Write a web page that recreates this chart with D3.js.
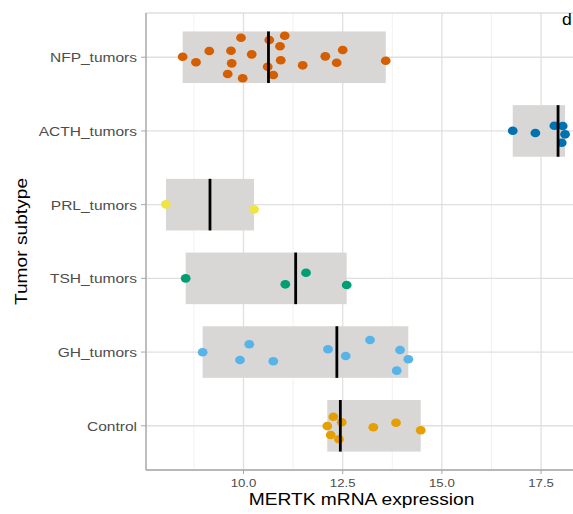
<!DOCTYPE html>
<html>
<head>
<meta charset="utf-8">
<script src="https://cdn.jsdelivr.net/npm/d3@7"></script>
<style>
html,body{margin:0;padding:0;background:#fff;}
svg{display:block;}
</style>
</head>
<body>
<svg id="chart" width="573" height="514"></svg>
<script>
// ---- data ----
const categories = ["NFP_tumors","ACTH_tumors","PRL_tumors","TSH_tumors","GH_tumors","Control"];
const colors = ["#D55E00","#0072B2","#F0E442","#009E73","#56B4E9","#E69F00"];

const nfpValues = [8.467,8.803,9.138,9.685,9.703,9.602,9.937,9.980,10.207,10.650,10.610,10.751,10.920,11.039,10.938,11.492,12.062,12.349,12.501,13.585];
const nfpJitter = [-0.007,0.069,-0.084,-0.088,0.083,0.228,-0.265,0.286,-0.039,-0.233,0.129,0.241,-0.148,-0.292,0.042,0.110,-0.012,0.075,-0.098,0.047];

const acthValues = [16.786,17.356,17.835,18.046,18.104,18.021];
const acthJitter = [-0.003,0.028,-0.071,-0.066,0.046,0.160];

const prlValues = [8.046,10.265];
const prlJitter = [-0.004,0.064];

const tshValues = [8.543,11.054,11.576,12.601];
const tshJitter = [0.0,0.081,-0.076,0.091];

const ghValues = [8.971,10.146,9.912,10.751,12.130,12.576,13.189,13.945,14.154,13.862];
const ghJitter = [0.003,-0.106,0.107,0.125,-0.038,0.053,-0.164,-0.028,0.098,0.252];

const controlValues = [12.112,12.264,12.475,12.198,12.407,13.272,13.844,14.467];
const controlJitter = [0.003,-0.123,-0.047,0.125,0.183,0.020,-0.042,0.061];

const xTicks = [10.0,12.5,15.0,17.5];
const xMinor = [8.75,11.25,13.75,16.25];
const xTitle = "MERTK mRNA expression";
const yTitle = "Tumor subtype";
const panelTag = "d";

const groups = [
  {cat:categories[0], values:nfpValues, jitter:nfpJitter, color:colors[0]},
  {cat:categories[1], values:acthValues, jitter:acthJitter, color:colors[1]},
  {cat:categories[2], values:prlValues, jitter:prlJitter, color:colors[2]},
  {cat:categories[3], values:tshValues, jitter:tshJitter, color:colors[3]},
  {cat:categories[4], values:ghValues, jitter:ghJitter, color:colors[4]},
  {cat:categories[5], values:controlValues, jitter:controlJitter, color:colors[5]}
];

// ---- layout ----
const P = {left:146, right:585, top:13, bottom:470};
const svg = d3.select("#chart");
const FONT = "'Liberation Sans', Arial, Helvetica, sans-serif";
const SX = 1.15; // horizontal stretch seen in the reference text

const all = groups.flatMap(g => g.values);
const [vmin, vmax] = d3.extent(all);
const pad = (vmax - vmin) * 0.05;
const x = d3.scaleLinear().domain([vmin - pad, vmax + pad]).range([P.left, P.right]);
const y = d3.scalePoint().domain(categories).range([P.top, P.bottom]).padding(0.6);
const step = y.step();
const jy = d3.scaleLinear().domain([-1,1]).range([-step, step]);

svg.append("defs").append("clipPath").attr("id","clip")
  .append("rect").attr("x",P.left).attr("y",P.top).attr("width",P.right-P.left).attr("height",P.bottom-P.top);

const g = svg.append("g");

// grid
g.selectAll("line.minor").data(xMinor).join("line")
  .attr("x1",d=>x(d)).attr("x2",d=>x(d)).attr("y1",P.top).attr("y2",P.bottom)
  .attr("stroke","#ededed").attr("stroke-width",0.8);
g.selectAll("line.major").data(xTicks).join("line")
  .attr("x1",d=>x(d)).attr("x2",d=>x(d)).attr("y1",P.top).attr("y2",P.bottom)
  .attr("stroke","#e0e0e0").attr("stroke-width",1.3);
g.selectAll("line.hmajor").data(categories).join("line")
  .attr("x1",P.left).attr("x2",P.right).attr("y1",d=>y(d)).attr("y2",d=>y(d))
  .attr("stroke","#e0e0e0").attr("stroke-width",1.3);

// panel border
g.append("rect").attr("x",P.left).attr("y",P.top).attr("width",P.right-P.left).attr("height",P.bottom-P.top)
  .attr("fill","none").attr("stroke","#d0d0d0").attr("stroke-width",1);

const plot = g.append("g").attr("clip-path","url(#clip)");

// range boxes
const boxH = step * 0.7;
plot.selectAll("rect.box").data(groups).join("rect")
  .attr("x", d => x(d3.min(d.values)))
  .attr("width", d => x(d3.max(d.values)) - x(d3.min(d.values)))
  .attr("y", d => y(d.cat) - boxH/2)
  .attr("height", boxH)
  .attr("fill", "#d8d7d5");

// points
groups.forEach(gr => {
  plot.selectAll(null).data(gr.values.map((v,i)=>({v, j:gr.jitter[i]}))).join("ellipse")
    .attr("cx", d => x(d.v))
    .attr("cy", d => y(gr.cat) + jy(d.j))
    .attr("rx", 4.9).attr("ry", 4.3)
    .attr("fill", gr.color);
});

// medians
plot.selectAll("line.med").data(groups).join("line")
  .attr("x1", d => x(d3.median(d.values))).attr("x2", d => x(d3.median(d.values)))
  .attr("y1", d => y(d.cat) - boxH/2).attr("y2", d => y(d.cat) + boxH/2)
  .attr("stroke","#000").attr("stroke-width",2.8);

// axis lines
g.append("line").attr("x1",P.left).attr("x2",P.left).attr("y1",P.top).attr("y2",P.bottom)
  .attr("stroke","#a8a8a8").attr("stroke-width",1.3);
g.append("line").attr("x1",P.left).attr("x2",P.right).attr("y1",P.bottom).attr("y2",P.bottom)
  .attr("stroke","#a8a8a8").attr("stroke-width",1.3);

// x axis ticks + labels
const xa = g.append("g");
xTicks.forEach(t => {
  xa.append("line").attr("x1",x(t)).attr("x2",x(t)).attr("y1",P.bottom).attr("y2",P.bottom+4)
    .attr("stroke","#a8a8a8").attr("stroke-width",1);
  xa.append("text").attr("transform",`translate(${x(t)},${P.bottom+17}) scale(${SX},1)`)
    .attr("text-anchor","middle").attr("font-family",FONT).attr("font-size",11.5)
    .attr("fill","#4d4d4d").text(d3.format(".1f")(t));
});

// y axis ticks + labels
const ya = g.append("g");
categories.forEach(c => {
  ya.append("line").attr("x1",P.left-5).attr("x2",P.left).attr("y1",y(c)).attr("y2",y(c))
    .attr("stroke","#a8a8a8").attr("stroke-width",1);
  ya.append("text").attr("transform",`translate(${P.left-9},${y(c)+5}) scale(${SX},1)`)
    .attr("text-anchor","end").attr("font-family",FONT).attr("font-size",13.5)
    .attr("fill","#4d4d4d").text(c);
});

// axis titles
svg.append("text").attr("transform",`translate(${(P.left+573)/2 + 2},${505}) scale(1.2,1)`)
  .attr("text-anchor","middle").attr("font-family",FONT).attr("font-size",16)
  .attr("fill","#000").text(xTitle);
svg.append("text").attr("transform",`translate(27,${(P.top+P.bottom)/2}) rotate(-90) scale(1.2,1)`)
  .attr("text-anchor","middle").attr("font-family",FONT).attr("font-size",16)
  .attr("fill","#000").text(yTitle);

// panel tag
svg.append("text").attr("transform","translate(567,25) scale(1.1,1)")
  .attr("text-anchor","middle").attr("font-family",FONT).attr("font-size",16)
  .attr("fill","#000").text(panelTag);
</script>
</body>
</html>
